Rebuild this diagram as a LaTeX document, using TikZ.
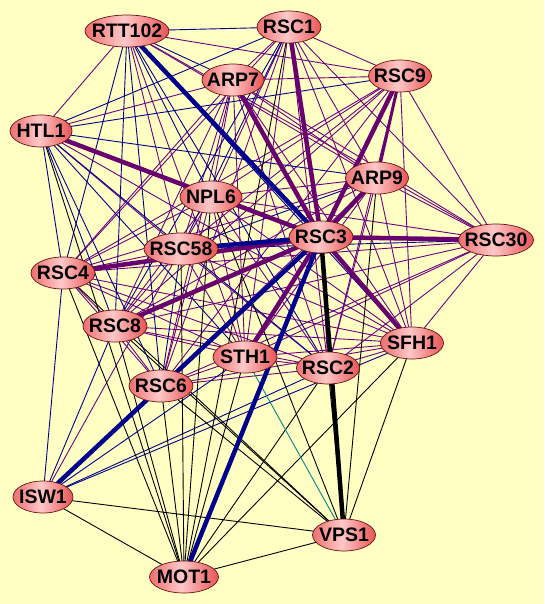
\documentclass[tikz,border=0pt]{standalone}
\usepackage{fontspec}
\setmainfont{Liberation Sans}
\usetikzlibrary{shapes.geometric}
\definecolor{bgy}{RGB}{255,255,195}
\definecolor{purp}{RGB}{112,0,128}
\definecolor{purpT}{RGB}{104,0,112}
\definecolor{navy}{RGB}{0,0,140}
\definecolor{tealc}{RGB}{0,135,135}
\definecolor{nodeL}{RGB}{238,110,110}
\definecolor{nodeM}{RGB}{255,200,200}
\definecolor{nodeR}{RGB}{232,84,84}
\definecolor{nodeB}{RGB}{105,20,20}
\pgfdeclarehorizontalshading{nodeshade}{100bp}{color(0bp)=(nodeL); color(25bp)=(nodeL); color(48bp)=(nodeM); color(75bp)=(nodeR); color(100bp)=(nodeR)}
\pgfdeclarelayer{bglayer}
\pgfdeclarelayer{edgelayer}
\pgfsetlayers{bglayer,edgelayer,main}
\tikzset{
  gene/.style={ellipse, draw=nodeB, line width=0.7pt, shading=nodeshade, shade, inner sep=0pt, minimum height=32pt, font=\bfseries\fontsize{19.5}{19.5}\selectfont},
  pe/.style={draw=purp, line width=0.9pt},
  be/.style={draw=navy, line width=0.9pt},
  ke/.style={draw=black, line width=0.9pt},
  te/.style={draw=tealc, line width=0.9pt},
  pthick/.style={draw=purpT, line width=4.5pt},
  pmed/.style={draw=purpT, line width=3pt},
  bthick/.style={draw=navy, line width=4.5pt},
  kthick/.style={draw=black, line width=4.5pt}
}
\newcommand{\gn}[1]{\makebox[0pt]{#1}}
\begin{document}
\begin{tikzpicture}[x=1pt,y=-1pt]
\useasboundingbox (0,0) rectangle (544,604);
\begin{pgfonlayer}{bglayer}
\fill[bgy] (0,0) rectangle (544,604);
\end{pgfonlayer}
\node[gene, minimum width=84pt] (rtt) at (127,31) {\gn{RTT102}};
\node[gene, minimum width=64pt] (rsc1) at (289,27) {\gn{RSC1}};
\node[gene, minimum width=62pt] (arp7) at (233,80) {\gn{ARP7}};
\node[gene, minimum width=63pt] (rsc9) at (400,76) {\gn{RSC9}};
\node[gene, minimum width=62pt] (htl) at (41,131) {\gn{HTL1}};
\node[gene, minimum width=62pt] (npl6) at (211,197) {\gn{NPL6}};
\node[gene, minimum width=63pt] (arp9) at (377,178) {\gn{ARP9}};
\node[gene, minimum width=64pt] (rsc3) at (321,237) {\gn{RSC3}};
\node[gene, minimum width=75pt] (rsc30) at (496,240) {\gn{RSC30}};
\node[gene, minimum width=74pt] (rsc58) at (181,249) {\gn{RSC58}};
\node[gene, minimum width=64pt] (rsc4) at (63,273) {\gn{RSC4}};
\node[gene, minimum width=64pt] (rsc8) at (115,326) {\gn{RSC8}};
\node[gene, minimum width=64pt] (sth) at (245,357) {\gn{STH1}};
\node[gene, minimum width=64pt] (rsc6) at (161,386) {\gn{RSC6}};
\node[gene, minimum width=63pt] (rsc2) at (328,368) {\gn{RSC2}};
\node[gene, minimum width=63pt] (sfh) at (412,343) {\gn{SFH1}};
\node[gene, minimum width=60pt] (isw) at (43,497) {\gn{ISW1}};
\node[gene, minimum width=69pt] (mot) at (184,577) {\gn{MOT1}};
\node[gene, minimum width=63pt] (vps) at (344,535) {\gn{VPS1}};
\begin{pgfonlayer}{edgelayer}
% thin purple
\foreach \a/\b in {rtt/rsc9, rtt/htl, rtt/arp9, rtt/rsc30, rtt/rsc58, rtt/sth,
  rsc1/arp7, rsc1/rsc9, rsc1/npl6, rsc1/arp9, rsc1/rsc30, rsc1/rsc4, rsc1/sth, rsc1/rsc6, rsc1/rsc2, rsc1/sfh,
  arp7/rsc9, arp7/htl, arp7/npl6, arp7/arp9, arp7/rsc30, arp7/rsc58, arp7/rsc4, arp7/rsc8, arp7/sth, arp7/rsc6, arp7/rsc2, arp7/sfh,
  rsc9/npl6, rsc9/rsc30, rsc9/rsc58, rsc9/rsc4, rsc9/rsc8, rsc9/rsc6, rsc9/rsc2, rsc9/sfh,
  htl/rsc58, htl/sfh,
  npl6/arp9, npl6/rsc30, npl6/rsc58, npl6/rsc4, npl6/rsc8, npl6/sth, npl6/rsc6, npl6/rsc2, npl6/sfh,
  arp9/rsc30, arp9/rsc4, arp9/rsc8, arp9/sth, arp9/rsc6, arp9/rsc2, arp9/sfh,
  rsc3/rsc6, rsc3/rsc2,
  rsc30/rsc4, rsc30/rsc8, rsc30/sth, rsc30/rsc6, rsc30/rsc2, rsc30/sfh,
  rsc58/rsc4, rsc58/rsc8, rsc58/sth, rsc58/rsc2, rsc58/sfh,
  rsc4/rsc8, rsc4/sth, rsc4/rsc6, rsc4/rsc2, rsc4/sfh,
  rsc8/sth, rsc8/rsc6, rsc8/rsc2, rsc8/sfh,
  sth/rsc6, sth/rsc2, sth/sfh, rsc6/rsc2, rsc6/sfh, rsc2/sfh, isw/rsc58}
  \draw[pe] (\a.center) -- (\b.center);
% thin blue
\foreach \a/\b in {rtt/rsc1, rtt/arp7, rtt/npl6, rtt/rsc4, rtt/rsc8, rtt/rsc6, rtt/rsc2, rtt/sfh,
  rsc1/htl, rsc1/rsc8, rsc1/rsc58, rsc9/htl,
  htl/arp9, htl/rsc4, htl/rsc8, htl/sth, htl/rsc6, htl/rsc2,
  arp9/rsc58, rsc30/rsc58, rsc58/rsc6,
  isw/rsc4, isw/rsc8, isw/sth, isw/rsc2, isw/sfh}
  \draw[be] (\a.center) -- (\b.center);
% thin black
\foreach \a/\b in {mot/isw, mot/vps, mot/rsc4, mot/rsc8, mot/htl, mot/rsc6, mot/rsc58, mot/npl6, mot/rsc1, mot/sth, mot/rsc2, mot/sfh,
  vps/isw, vps/rsc4, vps/rsc8, vps/rsc6, vps/npl6, vps/arp9, vps/sfh, vps/rsc2}
  \draw[ke] (\a.center) -- (\b.center);
\draw[te] (vps.center) -- (sth.center);
% thick
\draw[pmed] (rsc9.center) -- (arp9.center);
\foreach \a in {rsc1, arp7, rsc9, htl, arp9, rsc30, rsc4, rsc8, sth, sfh}
  \draw[pthick] (rsc3.center) -- (\a.center);
\draw[bthick] (rtt.center) -- (rsc3.center);
\draw[bthick] (rsc58.center) -- (rsc3.center);
\draw[bthick] (rsc3.center) -- (isw.center);
\draw[bthick] (rsc3.center) -- (mot.center);
\draw[kthick] (rsc3.center) -- (vps.center);
\end{pgfonlayer}
\end{tikzpicture}
\end{document}
